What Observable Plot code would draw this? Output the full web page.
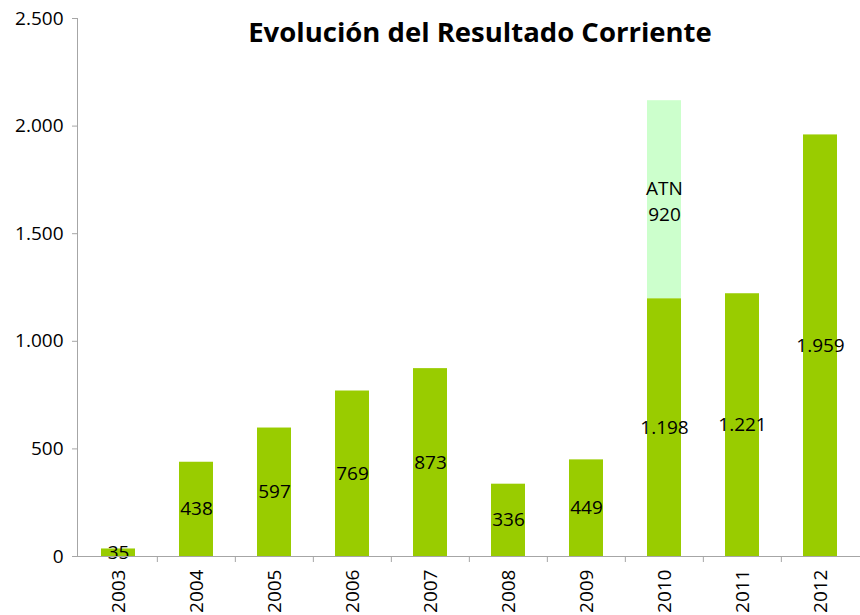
<!DOCTYPE html>
<html>
<head>
<meta charset="utf-8">
<script src="https://cdn.jsdelivr.net/npm/d3@7"></script>
<script src="https://cdn.jsdelivr.net/npm/@observablehq/plot@0.6"></script>
<style>
  body { margin: 0; background: #fff; }
  #chart { width: 860px; height: 615px; }
</style>
</head>
<body>
<div id="chart"></div>
<script>
const years = ["2003","2004","2005","2006","2007","2008","2009","2010","2011","2012"];
const values = [35, 438, 597, 769, 873, 336, 449, 1198, 1221, 1959];
const atnYears = ["2010"];
const atnBase = [1198];
const atnValues = [920];
const yTicks = [0, 500, 1000, 1500, 2000, 2500];
const title = "Evolución del Resultado Corriente";

const fmt = d3.formatLocale({decimal: ",", thousands: ".", grouping: [3], currency: ["", " €"]}).format(",");

const main = years.map((y, i) => ({year: y, value: values[i]}));
const atn = atnYears.map((y, i) => ({year: y, base: atnBase[i], value: atnValues[i]}));

const FONT = "'Open Sans', sans-serif";

const plot = Plot.plot({
  width: 860,
  height: 615,
  marginLeft: 77,
  marginRight: 0,
  marginTop: 18,
  marginBottom: 59,
  style: {fontFamily: FONT, color: "#000", background: "#fff"},
  x: {domain: years, paddingInner: 0.567, paddingOuter: 0.2835, label: null},
  y: {domain: [0, 2500], label: null},
  marks: [
    Plot.barY(main, {x: "year", y: "value", fill: "#99cc00"}),
    Plot.barY(atn, {x: "year", y1: "base", y2: d => d.base + d.value, fill: "#ccffcc"}),
    Plot.text(main, {x: "year", y: d => d.value / 2, text: d => fmt(d.value), fontSize: 19, fill: "#000"}),
    Plot.text(atn, {x: "year", y: d => d.base + d.value / 2, text: d => "ATN\n" + fmt(d.value), fontSize: 19, lineHeight: 1.35, fill: "#000"}),
    Plot.frame({anchor: "left", stroke: "#a6a6a6"}),
    Plot.ruleY([0], {stroke: "#a6a6a6"}),
    Plot.ruleX(years.slice(1), {x: d => d, dx: -39.15, y1: 0, y2: 0, insetBottom: -6, stroke: "#a6a6a6"}),
    Plot.axisY({ticks: yTicks, tickFormat: fmt, tickSize: 5, tickPadding: 9, fontSize: 19, stroke: "#a6a6a6", label: null}),
    Plot.axisX({tickSize: 0, tickRotate: -90, tickPadding: 13, fontSize: 19, label: null}),
    Plot.text([title], {frameAnchor: "top", lineAnchor: "middle", dx: 11, dy: 15, text: d => d, fontSize: 27.5, fontWeight: "bold", fill: "#000"})
  ]
});
document.getElementById("chart").appendChild(plot);
</script>
</body>
</html>
